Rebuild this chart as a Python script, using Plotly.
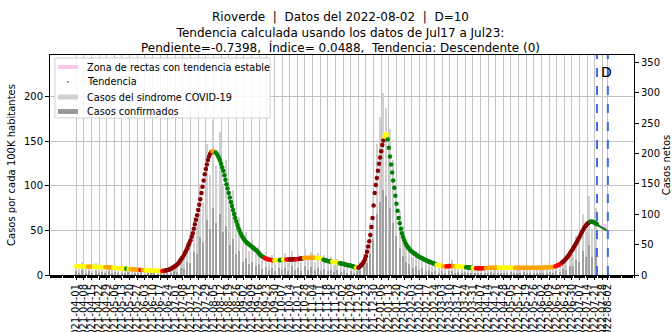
import pandas as pd
import plotly.graph_objects as go

# ---------------- data ----------------
fecha_inicio = '2021-04-01'

# Tendencia (casos por cada 100K habitantes), daily from 2021-04-01
tendencia = [
    10.0, 9.9, 9.9, 9.8, 9.8, 9.7, 9.7, 9.6, 9.6, 9.5,
    9.5, 9.4, 9.4, 9.3, 9.3, 9.2, 9.2, 9.1, 9.1, 9.0,
    9.0, 9.0, 8.9, 8.9, 8.8, 8.8, 8.7, 8.7, 8.6, 8.6,
    8.5, 8.4, 8.3, 8.2, 8.1, 8.0, 7.9, 7.8, 7.7, 7.6,
    7.5, 7.4, 7.3, 7.2, 7.1, 7.0, 6.9, 6.8, 6.7, 6.6,
    6.5, 6.4, 6.3, 6.2, 6.1, 6.0, 5.9, 5.8, 5.7, 5.6,
    5.6, 5.5, 5.4, 5.4, 5.3, 5.2, 5.2, 5.1, 5.0, 5.0,
    4.9, 4.9, 4.8, 4.8, 4.7, 4.7, 4.6, 4.6, 4.6, 4.6,
    4.7, 4.8, 5.0, 5.3, 5.6, 6.0, 6.5, 7.1, 7.7, 8.4,
    9.2, 10.1, 11.0, 12.2, 13.6, 15.2, 17.0, 18.8, 20.6, 22.5,
    25, 27.5, 30, 33, 36, 39, 43, 47, 52, 57,
    62, 67, 73, 79, 85, 92, 99, 106, 113, 119,
    124, 129, 133, 136, 138, 139, 139, 138.5, 137.5, 136,
    134, 131.5, 128.5, 125, 121, 117, 112, 107, 102, 97,
    92, 87, 82, 77.5, 73, 68.5, 64, 60, 56, 52.5,
    49.5, 46.5, 44, 42, 40, 38.5, 37, 36, 35, 34,
    33, 32, 31, 30, 29, 28, 27, 25.5, 24, 22.5,
    21.5, 20.5, 19.8, 19.2, 18.6, 18.0, 17.6, 17.2, 17.0, 16.8,
    16.6, 16.5, 16.5, 16.5, 16.5, 16.5, 16.6, 16.7, 16.8, 17.0,
    17.1, 17.2, 17.3, 17.4, 17.5, 17.5, 17.5, 17.5, 17.5, 17.6,
    17.6, 17.7, 17.8, 17.9, 18.0, 18.2, 18.4, 18.6, 18.8, 19.0,
    19.1, 19.2, 19.3, 19.4, 19.5, 19.5, 19.5, 19.4, 19.4, 19.3,
    19.2, 19.1, 19.0, 18.7, 18.4, 18.0, 17.6, 17.2, 16.8, 16.4,
    16.0, 15.7, 15.4, 15.2, 15.0, 14.8, 14.6, 14.5, 14.2, 14.0,
    13.8, 13.5, 13.3, 13.0, 12.7, 12.5, 12.2, 11.9, 11.6, 11.3,
    11.0, 10.8, 10.5, 10.1, 9.7, 9.2, 8.7, 8.3, 8.0, 8.2,
    9.0, 10.0, 11.3, 13.0, 15.0, 17.5, 21, 26, 32, 38,
    45, 54, 64, 78, 92, 101, 109, 117, 125, 132,
    139, 146, 151, 155.5, 158, 157.5, 152, 143, 133, 124,
    115, 106, 98, 89, 80, 72, 64, 58, 52, 47,
    43, 39.5, 36.5, 34, 32, 30.5, 29, 27.5, 26.5, 25.5,
    24.5, 23.5, 22.6, 21.8, 21.0, 20.3, 19.6, 19.0, 18.4, 17.8,
    17.2, 16.6, 16.0, 15.5, 15.0, 14.5, 14.0, 13.5, 13.0, 12.5,
    12.0, 11.5, 11.1, 10.8, 10.5, 10.2, 10.0, 9.8, 9.7, 9.6,
    9.7, 9.8, 9.9, 10.0, 10.0, 10.0, 10.0, 9.9, 9.8, 9.7,
    9.6, 9.5, 9.5, 9.4, 9.3, 9.2, 9.0, 8.9, 8.7, 8.6,
    8.5, 8.3, 8.1, 8.0, 7.8, 7.7, 7.6, 7.5, 7.5, 7.5,
    7.5, 7.5, 7.6, 7.6, 7.7, 7.8, 7.8, 7.9, 8.0, 8.0,
    8.0, 8.0, 8.0, 8.0, 8.0, 8.0, 8.0, 8.0, 8.0, 8.0,
    8.0, 8.0, 8.0, 8.0, 8.0, 8.0, 8.0, 8.0, 8.0, 8.0,
    8.0, 8.0, 8.0, 8.0, 8.0, 8.0, 8.0, 8.0, 8.0, 8.0,
    8.0, 8.0, 8.0, 8.0, 8.0, 8.0, 8.0, 8.0, 8.0, 8.0,
    8.0, 8.0, 8.0, 8.0, 8.0, 8.1, 8.1, 8.2, 8.2, 8.3,
    8.3, 8.4, 8.5, 8.6, 8.7, 8.8, 8.9, 9.0, 9.2, 9.4,
    9.8, 10.3, 10.9, 11.5, 12.2, 13.0, 13.9, 15.0, 16.2, 17.5,
    18.9, 20.4, 22.0, 23.8, 25.7, 27.6, 29.6, 31.7, 33.8, 36.0,
    38.2, 40.5, 42.8, 45.2, 47.6, 50.0, 52.2, 54.2, 55.9, 57.3,
    58.4, 59.3, 59.8, 60.0, 59.8, 59.3, 58.6, 57.8, 57.0,
]
# Trend category changes: (day offset from 2021-04-01, category)
# Y=estable, O=ascendente leve, R=ascendente, D=ascendente fuerte, G=descendente
cambios_cat = [
    (0, 'Y'), (11, 'O'), (16, 'Y'), (27, 'O'), (34, 'Y'), (46, 'G'), (48, 'Y'),
    (50, 'O'), (59, 'R'), (61, 'O'), (64, 'Y'), (79, 'R'), (82, 'D'), (125, 'O'),
    (128, 'G'), (173, 'R'), (182, 'Y'), (187, 'G'), (190, 'Y'), (193, 'R'),
    (196, 'D'), (202, 'R'), (205, 'D'), (209, 'O'), (221, 'Y'), (227, 'G'),
    (235, 'Y'), (242, 'G'), (257, 'Y'), (259, 'D'), (283, 'Y'), (286, 'G'),
    (331, 'Y'), (337, 'O'), (340, 'R'), (346, 'O'), (349, 'Y'), (358, 'G'),
    (364, 'Y'), (367, 'R'), (376, 'O'), (388, 'Y'), (403, 'O'), (440, 'R'),
    (446, 'D'), (472, 'G'),
]
colores_cat = {'Y': '#ffff00', 'O': '#ffa500', 'R': '#ff0000',
               'D': '#8b0000', 'G': '#008000'}

# Casos netos (bars), one value every 3 days from 2021-04-01
paso_barras = 3
sindrome = [
    18, 10, 22, 12, 16, 8, 19, 11, 15, 7,
    17, 10, 14, 6, 15, 9, 12, 5, 13, 8,
    10, 5, 9, 6, 8, 5, 9, 6, 11, 8,
    16, 13, 30, 26, 55, 48, 95, 80, 150, 120,
    215, 165, 255, 180, 235, 150, 190, 110, 140, 75,
    95, 50, 70, 40, 60, 35, 48, 25, 38, 20,
    33, 18, 30, 22, 36, 19, 40, 24, 34, 21,
    42, 26, 38, 22, 36, 20, 33, 18, 29, 16,
    27, 14, 24, 13, 20, 10, 17, 22, 35, 48,
    85, 130, 215, 260, 300, 275, 240, 190, 150, 105,
    80, 58, 50, 30, 40, 24, 32, 19, 27, 15,
    22, 12, 19, 11, 20, 25, 12, 18, 10, 16,
    9, 14, 8, 13, 9, 14, 8, 15, 10, 13,
    9, 14, 7, 16, 10, 12, 8, 15, 9, 13,
    8, 14, 10, 12, 9, 15, 11, 18, 14, 26,
    22, 40, 35, 65, 55, 100, 70, 130, 75, 110,
]
confirmados = [
    6, 4, 8, 3, 7, 2, 6, 4, 5, 2,
    6, 3, 5, 2, 4, 3, 5, 1, 4, 2,
    3, 1, 3, 2, 2, 1, 3, 2, 4, 3,
    6, 5, 12, 10, 22, 20, 38, 35, 62, 55,
    90, 75, 110, 85, 100, 70, 80, 50, 60, 35,
    40, 22, 28, 18, 22, 14, 18, 10, 13, 8,
    12, 6, 11, 8, 12, 7, 14, 8, 11, 7,
    15, 9, 13, 8, 12, 7, 10, 6, 9, 5,
    9, 5, 8, 4, 7, 3, 6, 8, 14, 20,
    35, 60, 100, 120, 140, 130, 110, 85, 65, 45,
    32, 22, 18, 12, 14, 9, 11, 7, 9, 5,
    7, 4, 6, 3, 6, 7, 4, 5, 3, 5,
    3, 4, 2, 4, 3, 4, 2, 5, 3, 4,
    2, 4, 2, 5, 3, 4, 2, 5, 3, 4,
    2, 4, 3, 4, 3, 5, 4, 7, 5, 10,
    8, 15, 14, 25, 22, 40, 30, 50, 30, 45,
]

recta_fechas = ['2022-07-17', '2022-08-01']
recta_vals = [60.5, 50.0]
zona_fechas = ['2022-07-27', '2022-08-01']
zona_vals = [55.0, 54.0]

fecha_corte = '2022-07-23'
fecha_datos = '2022-08-02'

tick_fechas = list(pd.date_range('2021-04-01', '2022-07-28', freq='7D')) + [pd.Timestamp('2022-08-02')]
tick_labels = [d.strftime('%Y-%m-%d') for d in tick_fechas]

titulo = ("Rioverde  |  Datos del 2022-08-02  |  D=10<br>"
          "Tendencia calculada usando los datos de Jul17 a Jul23:<br>"
          "Pendiente=-0.7398,  Índice= 0.0488,  Tendencia: Descendente (0)")

leyenda = ['Zona de rectas con tendencia estable', 'Tendencia',
           'Casos del sindrome COVID-19', 'Casos confirmados']

# ---------------- figure ----------------
fechas_t = pd.date_range(fecha_inicio, periods=len(tendencia), freq='D')
fechas_b = pd.date_range(fecha_inicio, periods=len(sindrome), freq=f'{paso_barras}D')

colores_t = []
for d in range(len(tendencia)):
    code = 'Y'
    for start, c in cambios_cat:
        if start <= d:
            code = c
    colores_t.append(colores_cat[code])

FONT = 'DejaVu Sans'
DAY_MS = 86400000
COL_SIND = '#d0d0d0'
COL_CONF = '#a0a0a0'
COL_ZONA = '#f7c6ef'
COL_GRID = '#c2c2c2'

PL, PR, PT, PB = 50, 634, 55, 275
def px(x):
    return (x - PL) / (PR - PL)
def py(y):
    return (PB - y) / (PB - PT)

fig = go.Figure()
fig.add_trace(go.Bar(x=fechas_b, y=sindrome, width=1.3 * DAY_MS,
                     marker=dict(color=COL_SIND, line=dict(width=0)),
                     name=leyenda[2], showlegend=False))
fig.add_trace(go.Bar(x=fechas_b, y=confirmados, width=1.3 * DAY_MS,
                     marker=dict(color=COL_CONF, line=dict(width=0)),
                     name=leyenda[3], showlegend=False))
fig.add_trace(go.Scatter(x=zona_fechas, y=zona_vals, mode='lines', yaxis='y2',
                         line=dict(color=COL_ZONA, width=5),
                         name=leyenda[0], showlegend=False))
fig.add_trace(go.Scatter(x=fechas_t, y=tendencia, mode='markers', yaxis='y2',
                         marker=dict(color=colores_t, size=4.5, line=dict(width=0)),
                         name=leyenda[1], showlegend=False))
fig.add_trace(go.Scatter(x=recta_fechas, y=recta_vals, mode='lines', yaxis='y2',
                         line=dict(color='#008000', width=2), showlegend=False))

for f in [fecha_corte, fecha_datos]:
    fig.add_shape(type='line', x0=f, x1=f, xref='x', y0=0, y1=1, yref='paper',
                  line=dict(color='#4169e1', width=2, dash='dash'))
fig.add_annotation(x=fecha_datos, y=py(72), xref='x', yref='paper', text='D',
                   showarrow=False, xanchor='center', yanchor='middle', xshift=-1,
                   font=dict(family=FONT, size=14, color='black'))

fig.add_annotation(x=px(340), y=py(8), xref='paper', yref='paper', text=titulo,
                   showarrow=False, xanchor='center', yanchor='top', align='center',
                   font=dict(family=FONT, size=12, color='black'))

# compact legend
fig.add_shape(type='rect', xref='paper', yref='paper',
              x0=px(55), x1=px(270), y0=py(118), y1=py(58),
              line=dict(color='#d0d0d0', width=1), fillcolor='rgba(255,255,255,0.85)')
fig.add_shape(type='line', xref='paper', yref='paper',
              x0=px(58), x1=px(78), y0=py(67), y1=py(67),
              line=dict(color=COL_ZONA, width=4))
fig.add_shape(type='circle', xref='paper', yref='paper',
              x0=px(66.8), x1=px(68.8), y0=py(83), y1=py(81),
              line=dict(width=0), fillcolor='#808080')
fig.add_shape(type='rect', xref='paper', yref='paper',
              x0=px(58), x1=px(78), y0=py(99.5), y1=py(94.5),
              line=dict(width=0), fillcolor=COL_SIND)
fig.add_shape(type='rect', xref='paper', yref='paper',
              x0=px(58), x1=px(78), y0=py(114), y1=py(109),
              line=dict(width=0), fillcolor='#999999')
for txt, yy in zip(leyenda, [67, 82, 97, 111.5]):
    fig.add_annotation(x=px(85), y=py(yy), xref='paper', yref='paper', text=txt,
                       showarrow=False, xanchor='left', yanchor='middle',
                       font=dict(family=FONT, size=9.7, color='black'))

fig.update_layout(
    width=672, height=332,
    margin=dict(l=PL, r=672 - PR, t=PT, b=332 - PB, autoexpand=False),
    paper_bgcolor='white', plot_bgcolor='white',
    font=dict(family=FONT, size=10, color='black'),
    barmode='overlay', bargap=0,
    showlegend=False,
    xaxis=dict(type='date', range=['2021-03-08', '2022-08-26'],
               tickmode='array', tickvals=tick_fechas, ticktext=tick_labels,
               tickangle=-90, tickfont=dict(size=10),
               showgrid=True, gridcolor=COL_GRID, gridwidth=1,
               showline=True, linecolor='black', linewidth=1, mirror=True,
               ticks='outside', ticklen=4, tickcolor='black',
               minor=dict(ticks='outside', ticklen=2, tickcolor='black',
                          dtick=DAY_MS, tick0='2021-04-01', showgrid=False),
               automargin=False, zeroline=False),
    yaxis=dict(side='right', range=[0, 362], tickmode='array',
               tickvals=[0, 50, 100, 150, 200, 250, 300, 350],
               showgrid=False, showline=True, linecolor='black', linewidth=1,
               ticks='outside', ticklen=4, tickcolor='black',
               title=dict(text='Casos netos', font=dict(size=10), standoff=6),
               zeroline=False, automargin=False),
    yaxis2=dict(overlaying='y', side='left', range=[0, 247], tickmode='array',
                tickvals=[0, 50, 100, 150, 200],
                showgrid=True, gridcolor=COL_GRID, gridwidth=1,
                showline=True, linecolor='black', linewidth=1,
                ticks='outside', ticklen=4, tickcolor='black',
                title=dict(text='Casos por cada 100K habitantes', font=dict(size=10), standoff=6),
                zeroline=False, automargin=False),
)

fig.write_html('out.html', config={'displayModeBar': False},
               post_script="document.body.style.margin='0';document.body.style.overflow='hidden';")
